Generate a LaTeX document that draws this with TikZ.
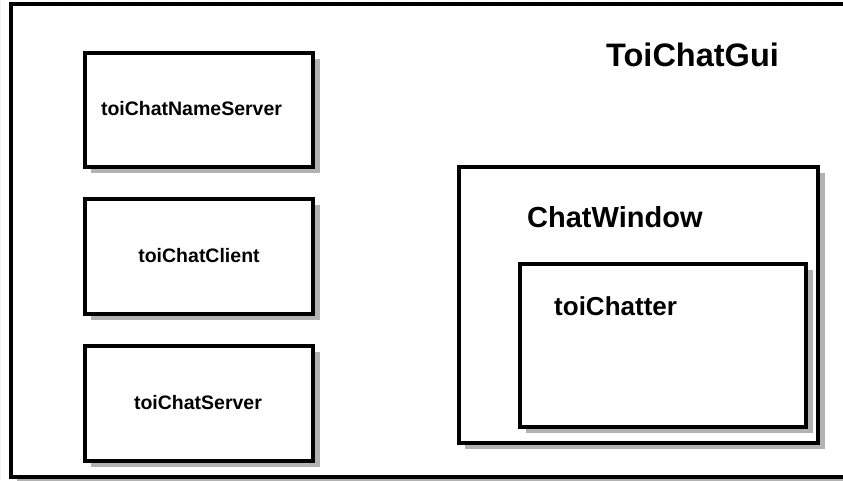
\documentclass[tikz,border=0pt]{standalone}
\usepackage{fontspec}
\setmainfont{Liberation Sans}
\tikzset{
  box/.style={draw=black, line width=3.2pt, fill=white},
  shade/.style={fill=black!30},
  lbl/.style={font=\bfseries\fontsize{#1}{#1}\selectfont, inner sep=0pt},
}
\begin{document}
\begin{tikzpicture}[x=1pt, y=-1pt]
  \useasboundingbox (0,0) rectangle (843,480);
  % faint background grid
  \draw[blue!6, line width=0.6pt, step=16] (0,0) grid (843,480);
  % outer frame ToiChatGui
  \fill[shade] (17,10) rectangle (850,484);
  \draw[box] (11,4) rectangle (850,477);
  \node[lbl=32.5] (gui) at (692.5,55) {ToiChatGui};
  % left components
  \fill[shade] (91,59) rectangle (320,173);
  \draw[box] (85,53) rectangle (313,167);
  \node[lbl=19.5] (ns) at (191.5,109) {toiChatNameServer};
  \fill[shade] (91,205) rectangle (320,320);
  \draw[box] (85,199) rectangle (313,314);
  \node[lbl=19.5] (cl) at (199,256) {toiChatClient};
  \fill[shade] (91,352) rectangle (320,467);
  \draw[box] (85,346) rectangle (313,461);
  \node[lbl=19.5] (sv) at (198,403) {toiChatServer};
  % chat window with chatter
  \fill[shade] (465,173) rectangle (825,449);
  \draw[box] (459,167) rectangle (818,443);
  \node[lbl=29, anchor=west] (cw) at (527,217) {ChatWindow};
  \fill[shade] (526,270) rectangle (813,433);
  \draw[box] (520,264) rectangle (806,427);
  \node[lbl=26, anchor=west] (ch) at (554,306) {toiChatter};
\end{tikzpicture}
\end{document}
